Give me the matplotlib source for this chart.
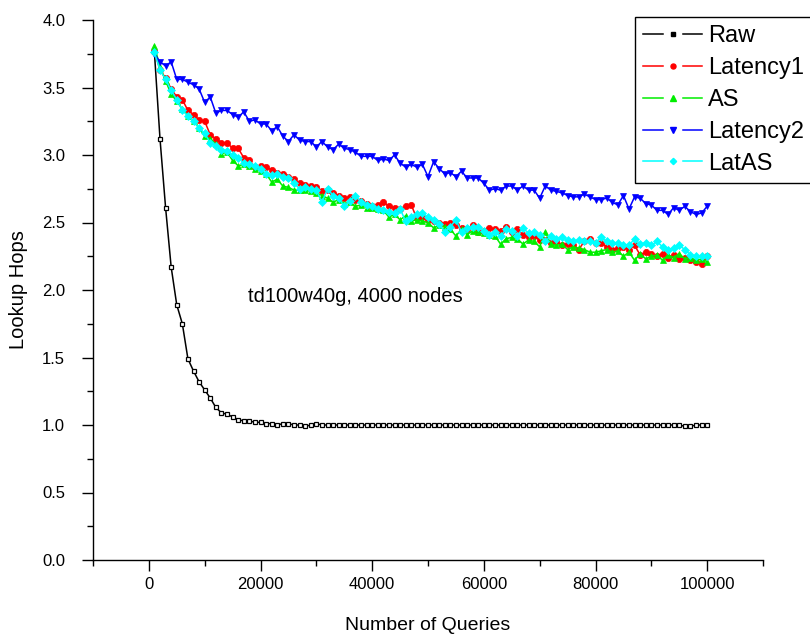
import numpy as np
import matplotlib
matplotlib.use('Agg')
import matplotlib.pyplot as plt
from matplotlib.lines import Line2D
from matplotlib.legend_handler import HandlerBase
from matplotlib.ticker import MultipleLocator, FormatStrFormatter

plt.rcParams['font.family'] = ['Liberation Sans', 'DejaVu Sans']

# number of queries (one sample every 1000 queries)
queries = np.arange(1000, 100001, 1000)

raw = [3.76, 3.12, 2.61, 2.17, 1.89, 1.75, 1.49, 1.40, 1.32, 1.26,
       1.20, 1.13, 1.09, 1.08, 1.06, 1.04, 1.03, 1.03, 1.02, 1.02,
       1.01, 1.01, 1.00, 1.01, 1.01, 1.00, 1.00, 0.99, 1.00, 1.01,
       1.00, 1.00, 1.00, 1.00, 1.00, 1.00, 1.00, 1.00, 1.00, 1.00,
       1.00, 1.00, 1.00, 1.00, 1.00, 1.00, 1.00, 1.00, 1.00, 1.00,
       1.00, 1.00, 1.00, 1.00, 1.00, 1.00, 1.00, 1.00, 1.00, 1.00,
       1.00, 1.00, 1.00, 1.00, 1.00, 1.00, 1.00, 1.00, 1.00, 1.00,
       1.00, 1.00, 1.00, 1.00, 1.00, 1.00, 1.00, 1.00, 1.00, 1.00,
       1.00, 1.00, 1.00, 1.00, 1.00, 1.00, 1.00, 1.00, 1.00, 1.00,
       1.00, 1.00, 1.00, 1.00, 1.00, 0.99, 0.99, 1.00, 1.00, 1.00]

latency1 = [3.77, 3.63, 3.57, 3.49, 3.43, 3.41, 3.33, 3.30, 3.26, 3.25,
            3.15, 3.12, 3.09, 3.09, 3.05, 3.05, 2.98, 2.96, 2.91, 2.92,
            2.91, 2.89, 2.87, 2.86, 2.84, 2.82, 2.79, 2.78, 2.77, 2.76,
            2.73, 2.74, 2.72, 2.70, 2.68, 2.69, 2.67, 2.66, 2.64, 2.62,
            2.63, 2.65, 2.62, 2.61, 2.60, 2.62, 2.63, 2.53, 2.54, 2.52,
            2.51, 2.50, 2.49, 2.50, 2.48, 2.46, 2.45, 2.48, 2.43, 2.44,
            2.46, 2.45, 2.44, 2.47, 2.43, 2.45, 2.41, 2.39, 2.40, 2.37,
            2.37, 2.35, 2.36, 2.33, 2.34, 2.33, 2.30, 2.36, 2.38, 2.35,
            2.35, 2.32, 2.30, 2.31, 2.32, 2.30, 2.33, 2.26, 2.28, 2.27,
            2.25, 2.27, 2.24, 2.26, 2.23, 2.24, 2.22, 2.21, 2.19, 2.25]

as_hops = [3.81, 3.65, 3.55, 3.45, 3.40, 3.34, 3.29, 3.25, 3.20, 3.14,
           3.12, 3.08, 3.01, 3.02, 2.96, 2.92, 2.93, 2.92, 2.90, 2.88,
           2.86, 2.80, 2.82, 2.77, 2.76, 2.74, 2.74, 2.74, 2.73, 2.72,
           2.70, 2.68, 2.65, 2.67, 2.64, 2.65, 2.62, 2.63, 2.61, 2.61,
           2.60, 2.59, 2.54, 2.56, 2.52, 2.55, 2.51, 2.52, 2.51, 2.50,
           2.46, 2.48, 2.47, 2.45, 2.40, 2.45, 2.41, 2.44, 2.43, 2.42,
           2.41, 2.40, 2.34, 2.38, 2.39, 2.38, 2.34, 2.37, 2.36, 2.32,
           2.43, 2.34, 2.33, 2.34, 2.30, 2.32, 2.31, 2.30, 2.28, 2.28,
           2.29, 2.30, 2.28, 2.29, 2.25, 2.28, 2.22, 2.27, 2.23, 2.25,
           2.26, 2.22, 2.26, 2.24, 2.27, 2.23, 2.24, 2.22, 2.23, 2.21]

latency2 = [3.75, 3.69, 3.66, 3.69, 3.56, 3.56, 3.54, 3.52, 3.49, 3.39,
            3.43, 3.31, 3.33, 3.33, 3.30, 3.28, 3.32, 3.25, 3.26, 3.23,
            3.23, 3.18, 3.21, 3.14, 3.10, 3.15, 3.11, 3.10, 3.10, 3.06,
            3.10, 3.06, 3.04, 3.08, 3.05, 3.04, 3.02, 2.99, 2.99, 2.99,
            2.96, 2.97, 2.96, 3.00, 2.94, 2.91, 2.93, 2.91, 2.93, 2.84,
            2.95, 2.90, 2.86, 2.87, 2.84, 2.88, 2.83, 2.83, 2.83, 2.79,
            2.74, 2.75, 2.74, 2.77, 2.77, 2.74, 2.77, 2.74, 2.74, 2.68,
            2.77, 2.74, 2.73, 2.72, 2.70, 2.69, 2.69, 2.71, 2.69, 2.67,
            2.67, 2.68, 2.65, 2.63, 2.70, 2.60, 2.69, 2.68, 2.64, 2.63,
            2.59, 2.59, 2.56, 2.61, 2.59, 2.62, 2.58, 2.56, 2.57, 2.62]

latas = [3.76, 3.63, 3.56, 3.48, 3.41, 3.33, 3.29, 3.25, 3.20, 3.16,
         3.09, 3.07, 3.04, 3.03, 3.00, 2.98, 2.94, 2.93, 2.92, 2.90,
         2.86, 2.85, 2.86, 2.84, 2.83, 2.79, 2.75, 2.76, 2.75, 2.74,
         2.65, 2.75, 2.70, 2.68, 2.62, 2.66, 2.70, 2.65, 2.63, 2.62,
         2.60, 2.59, 2.58, 2.57, 2.60, 2.51, 2.54, 2.56, 2.57, 2.54,
         2.52, 2.49, 2.43, 2.47, 2.52, 2.43, 2.46, 2.47, 2.47, 2.44,
         2.41, 2.43, 2.40, 2.45, 2.44, 2.40, 2.46, 2.42, 2.43, 2.41,
         2.36, 2.40, 2.38, 2.39, 2.37, 2.36, 2.37, 2.36, 2.36, 2.35,
         2.39, 2.36, 2.35, 2.35, 2.33, 2.33, 2.38, 2.34, 2.35, 2.33,
         2.36, 2.32, 2.30, 2.31, 2.33, 2.30, 2.26, 2.25, 2.25, 2.25]

series = [
    ('Raw', raw, 'black', 's', 3.0),
    ('Latency1', latency1, '#ff0000', 'o', 4.5),
    ('AS', as_hops, '#00ee00', '^', 5.0),
    ('Latency2', latency2, '#0000ff', 'v', 5.0),
    ('LatAS', latas, '#00ffff', 'D', 4.0),
]


class GapLineHandler(HandlerBase):
    # legend key drawn as "--- marker ---" like the Origin style
    def create_artists(self, legend, orig, xdescent, ydescent, width, height,
                       fontsize, trans):
        y = height / 2 - ydescent
        x0 = -xdescent
        seg = width * 0.33
        kw = dict(color=orig.get_color(), lw=orig.get_linewidth())
        left = Line2D([x0, x0 + seg], [y, y], **kw)
        right = Line2D([x0 + width - seg, x0 + width], [y, y], **kw)
        mark = Line2D([x0 + width / 2], [y], ls='none', marker=orig.get_marker(),
                      ms=orig.get_markersize(), mfc=orig.get_markerfacecolor(),
                      mec=orig.get_markeredgecolor())
        arts = [left, right, mark]
        for a in arts:
            a.set_transform(trans)
        return arts


fig = plt.figure(figsize=(8.1, 6.4), dpi=100)
ax = fig.add_axes([93 / 810, 1 - 560 / 640, 670 / 810, 540 / 640])

handles = []
for name, vals, col, mk, ms in series:
    if name == 'Raw':
        ax.plot(queries, vals, color=col, lw=1.1, marker=mk, ms=ms,
                mfc='white', mec=col, mew=0.9)
    else:
        ax.plot(queries, vals, color=col, lw=1.1, marker=mk, ms=ms,
                mfc=col, mec=col, mew=0.5)
    handles.append(Line2D([], [], color=col, lw=1.1, marker=mk,
                          ms=ms * 0.8, mfc=col, mec=col))

ax.set_xlim(-10000, 110000)
ax.set_ylim(0, 4.0)
ax.xaxis.set_major_locator(MultipleLocator(20000))
ax.xaxis.set_minor_locator(MultipleLocator(10000))
ax.xaxis.set_major_formatter(FormatStrFormatter('%d'))
ax.yaxis.set_major_locator(MultipleLocator(0.5))
ax.yaxis.set_minor_locator(MultipleLocator(0.25))
ax.yaxis.set_major_formatter(FormatStrFormatter('%.1f'))
ax.tick_params(which='major', direction='out', length=8, width=1, labelsize=12, pad=4)
ax.tick_params(axis='y', which='major', pad=12)
ax.tick_params(which='minor', direction='out', length=4, width=1)
for s in ['top', 'right']:
    ax.spines[s].set_visible(False)
for s in ['left', 'bottom']:
    ax.spines[s].set_linewidth(1.0)

ax.set_xlabel('Number of Queries', fontsize=14)
ax.set_ylabel('Lookup Hops', fontsize=14.5)
ax.xaxis.set_label_coords(0.5, -0.105)
ax.yaxis.set_label_coords(-0.097, 0.5)

ax.text(17700, 1.95, 'td100w40g, 4000 nodes', fontsize=14.5, va='center', ha='left')

leg = fig.legend(handles, [s[0] for s in series], loc='upper left',
                 bbox_to_anchor=(635 / 810, 1 - 17 / 640), fontsize=17,
                 handler_map={Line2D: GapLineHandler()},
                 handlelength=2.5, handletextpad=0.25, borderpad=0.34,
                 labelspacing=0.42, fancybox=False, edgecolor='black',
                 framealpha=1, borderaxespad=0)
leg.get_frame().set_linewidth(1.0)

plt.savefig('out.png', dpi=100)
